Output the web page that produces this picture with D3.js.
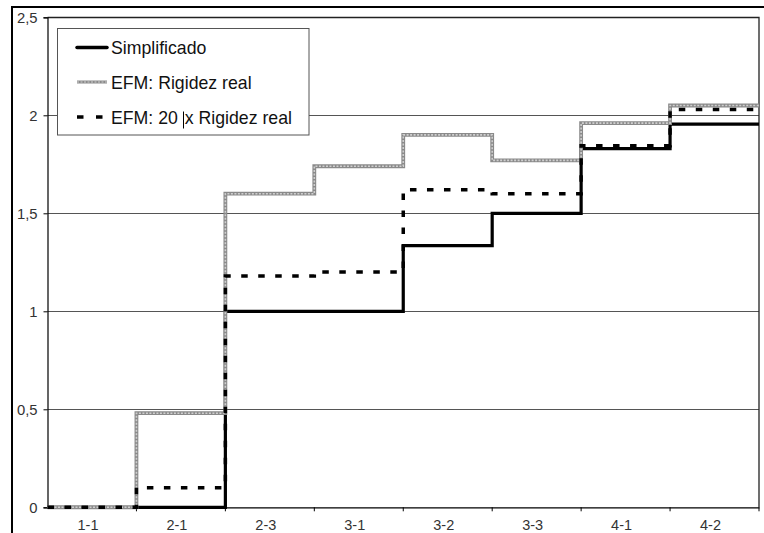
<!DOCTYPE html>
<html>
<head>
<meta charset="utf-8">
<script src="https://cdn.jsdelivr.net/npm/d3@7"></script>
<style>
  html, body { margin: 0; padding: 0; background: #fff; }
  svg { display: block; font-family: "Liberation Sans", Arial, sans-serif; }
</style>
</head>
<body>
<svg id="chart" width="764" height="533"></svg>
<script>
// ---- data ----
const categories = ["1-1", "2-1", "2-3", "3-1", "3-2", "3-3", "4-1", "4-2"];
const simplificado = [0, 0, 1.0, 1.0, 1.335, 1.5, 1.83, 1.955];
const efmReal      = [0, 0.48, 1.6, 1.74, 1.9, 1.77, 1.96, 2.05];
const efm20x       = [0, 0.1, 1.18, 1.2, 1.62, 1.6, 1.845, 2.03];
const yTicks = [0, 0.5, 1, 1.5, 2, 2.5];
const seriesNames = ["Simplificado", "EFM: Rigidez real", "EFM: 20 x Rigidez real"];

// ---- layout ----
const svg = d3.select("#chart");
const L = 47.5, R = 759, T = 17.3, B = 507.3;

const x = d3.scaleBand().domain(categories).range([L, R]).padding(0);
const y = d3.scaleLinear().domain([0, 2.5]).range([B, T]);
const fmt = v => String(v).replace(".", ",");

// outer frame
svg.append("path")
  .attr("d", `M12,540 L12,7 L770,7`)
  .attr("fill", "none").attr("stroke", "#000").attr("stroke-width", 2);

// gridlines
svg.append("g").selectAll("line").data(yTicks.filter(t => t > 0 && t < 2.5)).join("line")
  .attr("x1", L).attr("x2", R)
  .attr("y1", d => Math.round(y(d)) + 0.5).attr("y2", d => Math.round(y(d)) + 0.5)
  .attr("stroke", "#555").attr("stroke-width", 1);

// plot border top/right
svg.append("path")
  .attr("d", `M${L},${Math.round(T)+0.5} L${R},${Math.round(T)+0.5} L${R},${B}`)
  .attr("fill", "none").attr("stroke", "#222").attr("stroke-width", 1.3);

// y axis
const yAxis = d3.axisLeft(y).tickValues(yTicks).tickFormat(fmt).tickSize(4).tickPadding(6);
const gy = svg.append("g").attr("transform", `translate(${L},0)`).call(yAxis);
gy.select(".domain").attr("stroke", "#000").attr("stroke-width", 1.2);
gy.selectAll(".tick line").attr("stroke", "#000");
gy.selectAll(".tick text").attr("font-size", "14.8px").attr("fill", "#333")
  .attr("font-family", "Liberation Sans, Arial, sans-serif");

// x axis (ticks on category boundaries)
const xAxis = d3.axisBottom(x).tickSize(0).tickPadding(12);
const gx = svg.append("g").attr("transform", `translate(0,${B})`).call(xAxis);
gx.select(".domain").attr("stroke", "#000").attr("stroke-width", 1.2);
gx.selectAll(".tick text").attr("font-size", "14.5px").attr("fill", "#333")
  .attr("dx", -4).attr("font-family", "Liberation Sans, Arial, sans-serif");
svg.append("g").selectAll("line").data(categories.slice(1).concat(["__end"])).join("line")
  .attr("x1", d => d === "__end" ? R : x(d)).attr("x2", d => d === "__end" ? R : x(d))
  .attr("y1", B).attr("y2", B + 4)
  .attr("stroke", "#000").attr("stroke-width", 1);

// step lines
function stepPoints(vals) {
  const pts = [];
  categories.forEach((c, i) => {
    pts.push([x(c), y(vals[i])]);
    pts.push([x(c) + x.bandwidth(), y(vals[i])]);
  });
  return pts;
}
const line = d3.line();

// Simplificado (black solid)
svg.append("path").attr("d", line(stepPoints(simplificado)))
  .attr("fill", "none").attr("stroke", "#000").attr("stroke-width", 3.2)
  .attr("stroke-linejoin", "miter");

// EFM real (grey textured)
svg.append("path").attr("d", line(stepPoints(efmReal)))
  .attr("fill", "none").attr("stroke", "#8a8a8a").attr("stroke-width", 3.8);
svg.append("path").attr("d", line(stepPoints(efmReal)))
  .attr("fill", "none").attr("stroke", "#cfcfcf").attr("stroke-width", 1.6)
  .attr("stroke-dasharray", "2,1.5");

// EFM 20x (black dashed)
svg.append("path").attr("d", line(stepPoints(efm20x)))
  .attr("fill", "none").attr("stroke", "#000").attr("stroke-width", 3.5)
  .attr("stroke-dasharray", "6.5,10.5");

// legend
const lg = svg.append("g");
lg.append("rect").attr("x", 57.5).attr("y", 28.5).attr("width", 251.5).attr("height", 106.5)
  .attr("fill", "#fff").attr("stroke", "#555").attr("stroke-width", 1);

const rows = [
  { name: seriesNames[0], ly: 47.5, ty: 54 },
  { name: seriesNames[1], ly: 82, ty: 89 },
  { name: seriesNames[2], ly: 117, ty: 124 }
];
// samples
lg.append("line").attr("x1", 77).attr("x2", 107).attr("y1", rows[0].ly).attr("y2", rows[0].ly)
  .attr("stroke", "#000").attr("stroke-width", 3.5).attr("stroke-linecap", "round");
lg.append("line").attr("x1", 77).attr("x2", 107).attr("y1", rows[1].ly).attr("y2", rows[1].ly)
  .attr("stroke", "#8a8a8a").attr("stroke-width", 3);
lg.append("line").attr("x1", 77).attr("x2", 107).attr("y1", rows[1].ly).attr("y2", rows[1].ly)
  .attr("stroke", "#cfcfcf").attr("stroke-width", 1.2).attr("stroke-dasharray", "2,1.5");
lg.append("line").attr("x1", 77).attr("x2", 107).attr("y1", rows[2].ly).attr("y2", rows[2].ly)
  .attr("stroke", "#000").attr("stroke-width", 3.5).attr("stroke-dasharray", "6.5,12.5");

lg.selectAll("text.lab").data(rows.slice(0, 2)).join("text").attr("class", "lab")
  .attr("x", 111).attr("y", d => d.ty)
  .attr("font-size", "17.7px").attr("fill", "#111")
  .text(d => d.name);
// third label: split at the text cursor seen in the reference
const parts = seriesNames[2].split(" x ");
const t3 = lg.append("text").attr("x", 111).attr("y", rows[2].ty)
  .attr("font-size", "17.7px").attr("fill", "#111");
t3.append("tspan").text(parts[0] + " ");
t3.append("tspan").attr("dx", 2).text("x " + parts[1]);
lg.append("line").attr("x1", 183.5).attr("x2", 183.5).attr("y1", 111.5).attr("y2", 128.5)
  .attr("stroke", "#000").attr("stroke-width", 1);
</script>
</body>
</html>
